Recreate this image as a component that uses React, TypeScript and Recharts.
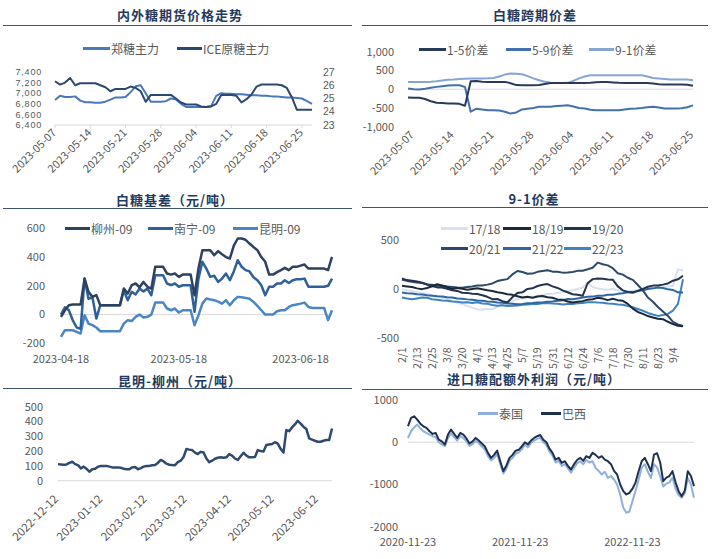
import React from "react";
import { LineChart, Line, XAxis, YAxis, ReferenceLine } from "recharts";

const FONT = "'Noto Sans CJK SC', 'Noto Sans', sans-serif";
const NUM_FONT = "'Liberation Sans', Arial, sans-serif";
const TICK = "#595959";
const RULE = "#3e5272";

// ---- 内外糖期货价格走势 (daily from 2023-05-07) ----
const p1TickDays = [0, 7, 14, 21, 28, 35, 42, 49];
const p1TickLabels = ["2023-05-07", "2023-05-14", "2023-05-21", "2023-05-28", "2023-06-04", "2023-06-11", "2023-06-18", "2023-06-25"];
const zhengMain = [
  6870, 6950, 6930, 6930, 6940, 6860, 6830, 6830, 6820, 6820,
  6840, 6880, 6920, 6920, 6930, 7020, 7130, 7150, 7000, 6840,
  6840, 6840, 6850, 6900, 6880, 6800, 6740, 6740, 6740, 6740,
  6740, 6760, 6950, 7000, 6990, 6990, 6980, 6980, 6970, 6960,
  6960, 6950, 6950, 6940, 6940, 6930, 6920, 6920, 6910, 6900,
  6850, 6800,
];
const iceRaw = [
  26.3, 26.05, 26.2, 26.55, 26.0, 26.15, 26.15, 26.15, 26.15, 26.0,
  25.85, 25.55, 25.72, 25.72, 25.72, 25.9, 25.8, 25.55, 24.75, 25.27,
  25.27, 25.27, 25.27, 25.27, 25.0, 24.7, 24.55, 24.55, 24.55, 24.4,
  24.36, 24.4, 24.6, 25.27, 25.27, 25.27, 25.2, 24.7, 24.95, 25.3,
  25.9, 26.06, 26.06, 26.06, 26.06, 26.0, 25.8, 25.1, 24.15, 24.15,
  24.15, 24.15,
];

// ---- 白糖跨期价差 (daily from 2023-05-06) ----
const p2FirstDay = -1;
const spread15 = [
  -220, -225, -230, -260, -320, -360, -370, -380, -380, -390,
  -440, 210, 220, 200, 195, 195, 195, 195, 160, 110,
  105, 105, 105, 110, 140, 165, 168, 168, 168, 168,
  168, 168, 170, 185, 195, 190, 180, 170, 168, 168,
  168, 168, 165, 150, 130, 125, 125, 125, 125, 120,
  90,
];
const spread59 = [
  20, 0, -10, 10, 40, 62, 80, 100, 107, 107,
  60, -600, -520, -540, -560, -560, -570, -600, -650, -620,
  -540, -520, -500, -470, -470, -470, -450, -440, -430, -460,
  -500, -516, -550, -560, -560, -560, -560, -560, -540, -520,
  -516, -500, -480, -470, -490, -516, -516, -516, -510, -480,
  -430,
];
const spread91 = [
  190, 195, 195, 195, 200, 210, 230, 250, 258, 270,
  280, 285, 285, 285, 290, 300, 340, 390, 418, 410,
  400, 350, 290, 240, 200, 170, 168, 168, 170, 220,
  290, 340, 370, 373, 373, 373, 373, 373, 373, 373,
  373, 370, 340, 300, 285, 270, 258, 258, 258, 258,
  240,
];

// ---- 白糖基差 (daily from 2023-04-18) ----
const p3TickDays = [0, 30, 61];
const p3TickLabels = ["2023-04-18", "2023-05-18", "2023-06-18"];
const basisLiuzhou = [
  -16, 30, 65, 70, 70, 70, 250, 158, 123, 135,
  65, 65, 65, 65, 65, 65, 181, 146, 204, 216,
  190, 227, 193, 181, 332, 332, 332, 285, 278, 285,
  262, 278, 278, 278, 134, 320, 448, 448, 448, 413,
  441, 420, 400, 390, 480, 529, 529, 520, 494, 470,
  448, 400, 367, 278, 278, 295, 309, 325, 309, 332,
  332, 340, 348, 320, 320, 320, 320, 320, 310, 401,
];
const basisNanning = [
  0, 50, 30, -40, -90, -100, 250, 110, 120, -28,
  65, 65, 65, 65, 65, 65, 169, 100, 158, 140,
  181, 160, 181, 134, 274, 274, 274, 216, 204, 216,
  193, 204, 204, 204, 19, 250, 367, 320, 262, 270,
  227, 250, 285, 239, 300, 378, 332, 309, 300, 260,
  239, 204, 134, 193, 193, 216, 216, 239, 220, 239,
  245, 245, 250, 193, 193, 193, 193, 193, 200, 250,
];
const basisKunming = [
  -156, -109, -109, -109, -120, -132, -5, -63, -74, -90,
  -116, -116, -116, -116, -116, -116, -63, -39, -45, -16,
  0, -20, -16, 0, 83, 83, 83, 42, 30, 42,
  14, 30, 30, 30, -74, -5, 76, 111, 105, 100,
  90, 76, 100, 65, 100, 123, 120, 116, 110, 88,
  60, 30, 0, 0, 0, 23, 30, 30, 53, 65,
  70, 76, 83, 53, 46, 46, 46, 46, -39, 30,
];

// ---- 9-1价差 seasonal (every 4 days from 2/1) ----
const p4Step = 4;
const p4TickDays = [0, 12, 24, 36, 48, 60, 72, 84, 96, 108, 120, 132, 144, 156, 168, 180, 192, 204, 216];
const p4TickLabels = ["2/1", "2/13", "2/25", "3/8", "3/20", "4/1", "4/13", "4/25", "5/7", "5/19", "5/31", "6/12", "6/24", "7/6", "7/18", "7/30", "8/11", "8/23", "9/4"];
const s1718 = [
  0, -12, -18, -32, -40, -48, -62, -70, -88, -100,
  -118, -140, -150, -172, -188, -206, -210, -200, -204, -178,
  -152, -134, -122, -98, -92, -84, -82, -68, -62, -50,
  -46, -38, -32, -18, -12, 2, 17, 68, 22, 8,
  0, -6, 2, -12, -14, -22, -16, -8, 0, 6,
  8, 18, 20, 28, 34, 204, 190,
];
const s1819 = [
  34, 28, 22, 8, 0, 12, 30, 51, 38, 22,
  0, 12, 4, -6, 2, 10, -2, -12, -18, -32,
  -40, -52, -58, -72, -85, -78, -88, -74, -70, -82,
  -88, -104, -108, -126, -136, -128, -122, -108, -102, -88,
  -96, -112, -98, -112, -119, -150, -198, -232, -252, -274,
  -288, -302, -306, -332, -355, -372, -378,
];
const s1920 = [
  109, 92, 86, 78, 66, 48, 32, 18, 16, 4,
  -12, -18, -36, -38, -46, -50, -62, -78, -102, -100,
  -122, -136, -82, -38, -32, 2, 8, 32, 44, 52,
  28, 12, -12, -32, -52, -58, -68, 60, 102, 108,
  106, 98, 96, 28, -12, -28, -36, -18, 2, 24,
  36, 38, 46, 58, 86, 100, 136,
];
const s2021 = [
  95, 84, 76, 68, 62, 48, 46, 34, 32, 26,
  22, 16, 14, 22, 28, 36, 38, 46, 58, 82,
  94, 102, 150, 185, 174, 156, 158, 176, 184, 192,
  178, 176, 168, 170, 174, 186, 188, 202, 218, 270,
  254, 242, 214, 162, 148, 116, 94, 42, -12, -85,
  -128, -182, -228, -272, -332, -358, -374,
];
const s2122 = [
  -34, -42, -44, -52, -54, -62, -66, -72, -74, -82,
  -84, -96, -98, -104, -108, -116, -118, -126, -128, -136,
  -138, -146, -148, -153, -150, -144, -142, -136, -136, -128,
  -126, -118, -112, -100, -102, -94, -86, -78, -76, -66,
  -66, -58, -56, -48, -42, -32, -30, -18, -12, 2,
  8, 17, 12, -2, -8, -32, -34,
];
const s2223 = [
  -85, -96, -102, -94, -86, -88, -102, -108, -116, -118,
  -126, -128, -136, -134, -142, -134, -146, -148, -162, -170,
  -164, -172, -168, -166, -158, -156, -152, -150, -144, -142,
  -146, -148, -156, -152, -152, -144, -142, -134, -132, -136,
  -138, -146, -148, -156, -158, -172, -184, -202, -220, -242,
  -258, -272, -264, -252, -218, -150, 100,
];

// ---- 昆明-柳州 (every 2 days from 2022-12-12) ----
const p5Step = 2;
const p5TickDays = [0, 31, 62, 90, 121, 151, 182];
const p5TickLabels = ["2022-12-12", "2023-01-12", "2023-02-12", "2023-03-12", "2023-04-12", "2023-05-12", "2023-06-12"];
const kunmingLiuzhou = [
  112, 110, 108, 110, 120, 128, 112, 105, 83, 95,
  80, 61, 77, 80, 95, 99, 100, 100, 95, 90,
  90, 90, 88, 80, 77, 77, 90, 92, 77, 85,
  95, 99, 100, 104, 106, 120, 140, 130, 115, 108,
  106, 105, 125, 135, 160, 214, 210, 207, 190, 180,
  195, 190, 150, 125, 135, 148, 155, 158, 155, 158,
  180, 170, 150, 140, 165, 189, 170, 158, 158, 160,
  207, 200, 198, 241, 245, 248, 260, 250, 215, 190,
  342, 335, 360, 380, 405, 385, 365, 350, 286, 278,
  270, 263, 263, 270, 275, 275, 353,
];

// ---- 进口糖配额外利润 (every 10 days from 2020-11-23) ----
const p6Step = 10;
const p6TickDays = [0, 365, 730];
const p6TickLabels = ["2020-11-23", "2021-11-23", "2022-11-23"];
const profitThai = [
  100, 260, 350, 418, 330, 260, 221, 180, 142, 120,
  0, -50, -95, 100, 210, 120, 40, 150, 100, 20,
  -90, -40, 30, -20, -100, -170, -330, -430, -370, -280,
  -520, -740, -620, -440, -370, -270, -240, -170, -60, -120,
  -20, 40, 80, 110, 0, -60, -220, -320, -480, -440,
  -560, -520, -620, -720, -600, -500, -450, -520, -420, -480,
  -450, -607, -680, -764, -700, -843, -800, -882, -1000, -1237,
  -1552, -1670, -1640, -1395, -1150, -880, -600, -520, -700, -850,
  -520, -600, -800, -1050, -980, -950, -840, -1100, -1250, -1316,
  -1200, -850, -1000, -1316,
];
const profitBrazil = [
  380, 575, 615, 536, 440, 378, 339, 260, 197, 220,
  63, 20, -55, 181, 300, 200, 100, 221, 180, 90,
  -30, 20, 102, 40, -30, -100, -252, -370, -300, -200,
  -449, -685, -550, -370, -300, -200, -180, -100, 0, -50,
  40, 102, 142, 170, 60, 0, -150, -252, -410, -370,
  -489, -450, -560, -646, -520, -420, -370, -440, -330, -370,
  -252, -300, -370, -330, -410, -450, -520, -680, -764, -1000,
  -1158, -1237, -1200, -1100, -950, -680, -450, -370, -520, -685,
  -292, -260, -480, -922, -840, -800, -685, -950, -1158, -1280,
  -1150, -685, -800, -1040,
];

const p1Data = zhengMain.map((v, i) => ({ d: i, zheng: v, ice: iceRaw[i] }));
const p2Data = spread15.map((v, i) => ({ d: i + p2FirstDay, a: v, b: spread59[i], c: spread91[i] }));
const p3Data = basisLiuzhou.map((v, i) => ({ d: i, lz: v, nn: basisNanning[i], km: basisKunming[i] }));
const p4Data = s1718.map((v, i) => ({
  d: i * p4Step, s1718: v, s1819: s1819[i], s1920: s1920[i], s2021: s2021[i], s2122: s2122[i], s2223: s2223[i],
}));
const p5Data = kunmingLiuzhou.map((v, i) => ({ d: i * p5Step, v }));
const p6Data = profitThai.map((v, i) => ({ d: i * p6Step, thai: v, brazil: profitBrazil[i] }));

const comma = (v: number) => v.toLocaleString("en-US");
const yTick = { fill: TICK, fontSize: 11, fontFamily: FONT };

function SlantTick(props: any) {
  const { x, y, payload, ticks, labels, dx, dy, size } = props;
  const label = labels[ticks.indexOf(payload.value)];
  const ax = x + dx;
  const ay = y + dy;
  return (
    <text x={ax} y={ay} transform={`rotate(-45 ${ax} ${ay})`} textAnchor="end" fontSize={size} fill={TICK} fontFamily={FONT}>
      {label}
    </text>
  );
}

function VertTick(props: any) {
  const { x, y, payload, ticks, labels } = props;
  const label = labels[ticks.indexOf(payload.value)];
  const ax = x + 4;
  const ay = y + 9;
  return (
    <text x={ax} y={ay} transform={`rotate(-90 ${ax} ${ay})`} textAnchor="end" fontSize={10.5} fill={TICK} fontFamily={FONT}>
      {label}
    </text>
  );
}

function FlatTick(props: any) {
  const { x, y, payload, ticks, labels, dy } = props;
  const label = labels[ticks.indexOf(payload.value)];
  return (
    <text x={x} y={y + dy} textAnchor="middle" fontSize={11} fill={TICK} fontFamily={FONT}>
      {label}
    </text>
  );
}

function Title({ text, cx, cy, x0, x1, lineY }: { text: string; cx: number; cy: number; x0: number; x1: number; lineY: number }) {
  return (
    <>
      <div
        style={{
          position: "absolute", left: cx - 170, width: 340, top: cy - 10, height: 20, lineHeight: "20px",
          textAlign: "center", fontFamily: FONT, fontWeight: 700, fontSize: 13, color: "#1f3a60", letterSpacing: 1,
        }}
      >
        {text}
      </div>
      <div style={{ position: "absolute", left: x0, width: x1 - x0, top: lineY, height: 1, background: RULE }} />
    </>
  );
}

function Key({ label, color, x, y, len }: { label: string; color: string; x: number; y: number; len: number }) {
  return (
    <div style={{ position: "absolute", left: x, top: y - 9, height: 18, display: "flex", alignItems: "center", whiteSpace: "nowrap" }}>
      <span style={{ display: "inline-block", width: len, height: 3, background: color }} />
      <span style={{ fontSize: 12, color: TICK, fontFamily: FONT, marginLeft: 1 }}>{label}</span>
    </div>
  );
}

const C = {
  zheng: "#4a78bd",
  ice: "#2c4770",
  s15: "#283c5a",
  s59: "#4470ae",
  s91: "#86a5d3",
  lz: "#2d4261",
  nn: "#2f6099",
  km: "#4a86c5",
  y1718: "#d8e1ee",
  y1819: "#1c293b",
  y1920: "#22344e",
  y2021: "#2e4869",
  y2122: "#2f67a4",
  y2223: "#3f83c4",
  kl: "#2e4a6e",
  thai: "#8fb0dc",
  brazil: "#1e3250",
};

const lineProps = { type: "linear" as const, dot: false, isAnimationActive: false, strokeWidth: 2, strokeLinejoin: "round" as const };

export default function App() {
  return (
    <div style={{ position: "absolute", left: 0, top: 0, width: 722, height: 559, background: "#ffffff", overflow: "hidden" }}>
      <Title text="内外糖期货价格走势" cx={180} cy={15} x0={3} x1={352} lineY={25} />
      <Title text="白糖跨期价差" cx={535} cy={15} x0={362} x1={708} lineY={25} />
      <Title text="白糖基差（元/吨）" cx={175} cy={200} x0={3} x1={352} lineY={208} />
      <Title text="9-1价差" cx={534} cy={199} x0={362} x1={708} lineY={207} />
      <Title text="昆明-柳州（元/吨）" cx={180} cy={381} x0={3} x1={352} lineY={388} />
      <Title text="进口糖配额外利润（元/吨）" cx={534} cy={379} x0={362} x1={708} lineY={389} />

      {/* panel 1 */}
      <div style={{ position: "absolute", left: 0, top: 55 }}>
        <LineChart width={361} height={140} data={p1Data} margin={{ top: 17, right: 0, bottom: 0, left: 0 }}>
          <XAxis
            dataKey="d" type="number" domain={[0, 51]} ticks={p1TickDays} interval={0} height={70}
            axisLine={{ stroke: "#d9d9d9" }} tickLine={{ stroke: "#d9d9d9" }} tickSize={3} tickMargin={0}
            tick={(p: any) => <SlantTick {...p} ticks={p1TickDays} labels={p1TickLabels} dx={2} dy={5.5} size={11} />}
          />
          <YAxis
            yAxisId="l" domain={[6400, 7400]} ticks={[6400, 6600, 6800, 7000, 7200, 7400]} width={55} interval={0}
            axisLine={false} tickLine={false} tickSize={0} tickMargin={13}
            tick={{ fill: TICK, fontSize: 9, fontFamily: NUM_FONT, letterSpacing: 0.8 }} tickFormatter={comma}
          />
          <YAxis
            yAxisId="r" orientation="right" domain={[23, 27]} ticks={[23, 24, 25, 26, 27]} width={49} interval={0}
            axisLine={false} tickLine={false} tickSize={0} tickMargin={11}
            tick={{ fill: TICK, fontSize: 10.5, fontFamily: NUM_FONT, textAnchor: "start" }}
          />
          <Line {...lineProps} yAxisId="l" dataKey="zheng" stroke={C.zheng} />
          <Line {...lineProps} yAxisId="r" dataKey="ice" stroke={C.ice} />
        </LineChart>
      </div>
      <Key label="郑糖主力" color={C.zheng} x={83} y={48} len={27} />
      <Key label="ICE原糖主力" color={C.ice} x={177} y={48} len={25} />

      {/* panel 2 */}
      <div style={{ position: "absolute", left: 361, top: 40 }}>
        <LineChart width={361} height={155} data={p2Data} margin={{ top: 11.7, right: 29, bottom: 0, left: 0 }}>
          <XAxis
            dataKey="d" type="number" domain={[-1, 49]} ticks={p1TickDays} interval={0} height={68.3}
            axisLine={false} tickLine={false} tickSize={0} tickMargin={0}
            tick={(p: any) => <SlantTick {...p} ticks={p1TickDays} labels={p1TickLabels} dx={1} dy={9} size={11} />}
          />
          <YAxis
            domain={[-1000, 1000]} ticks={[-1000, -500, 0, 500, 1000]} width={47} interval={0}
            axisLine={false} tickLine={false} tickSize={0} tickMargin={14} tick={yTick} tickFormatter={comma}
          />
          <ReferenceLine y={0} stroke="#d9d9d9" />
          <Line {...lineProps} dataKey="c" stroke={C.s91} />
          <Line {...lineProps} dataKey="b" stroke={C.s59} />
          <Line {...lineProps} dataKey="a" stroke={C.s15} />
        </LineChart>
      </div>
      <Key label="1-5价差" color={C.s15} x={419} y={49} len={27} />
      <Key label="5-9价差" color={C.s59} x={506} y={49} len={25} />
      <Key label="9-1价差" color={C.s91} x={589} y={49} len={25} />

      {/* panel 3 */}
      <div style={{ position: "absolute", left: 0, top: 215 }}>
        <LineChart width={361} height={155} data={p3Data} margin={{ top: 13.3, right: 29, bottom: 0, left: 0 }}>
          <XAxis
            dataKey="d" type="number" domain={[0, 69]} ticks={p3TickDays} interval={0} height={26.7}
            axisLine={false} tickLine={false} tickSize={0} tickMargin={0}
            tick={(p: any) => <FlatTick {...p} ticks={p3TickDays} labels={p3TickLabels} dy={19.5} />}
          />
          <YAxis
            domain={[-200, 600]} ticks={[-200, 0, 200, 400, 600]} width={61} interval={0}
            axisLine={false} tickLine={false} tickSize={0} tickMargin={16} tick={yTick}
          />
          <ReferenceLine y={0} stroke="#d9d9d9" />
          <Line {...lineProps} dataKey="km" stroke={C.km} strokeWidth={2.5} />
          <Line {...lineProps} dataKey="nn" stroke={C.nn} strokeWidth={2.5} />
          <Line {...lineProps} dataKey="lz" stroke={C.lz} strokeWidth={2.5} />
        </LineChart>
      </div>
      <Key label="柳州-09" color={C.lz} x={65} y={228} len={25} />
      <Key label="南宁-09" color={C.nn} x={148} y={228} len={25} />
      <Key label="昆明-09" color={C.km} x={233} y={228} len={25} />

      {/* panel 4 */}
      <div style={{ position: "absolute", left: 361, top: 215 }}>
        <LineChart width={361} height={160} data={p4Data} margin={{ top: 25, right: 39, bottom: 0, left: 0 }}>
          <XAxis
            dataKey="d" type="number" domain={[0, 224]} ticks={p4TickDays} interval={0} height={36.7}
            axisLine={false} tickLine={false} tickSize={0} tickMargin={0}
            tick={(p: any) => <VertTick {...p} ticks={p4TickDays} labels={p4TickLabels} />}
          />
          <YAxis
            domain={[-500, 500]} ticks={[-500, 0, 500]} width={41} interval={0}
            axisLine={false} tickLine={false} tickSize={0} tickMargin={3} tick={yTick}
          />
          <Line {...lineProps} dataKey="s1718" stroke={C.y1718} />
          <Line {...lineProps} dataKey="s2223" stroke={C.y2223} />
          <Line {...lineProps} dataKey="s2122" stroke={C.y2122} />
          <Line {...lineProps} dataKey="s2021" stroke={C.y2021} />
          <Line {...lineProps} dataKey="s1920" stroke={C.y1920} />
          <Line {...lineProps} dataKey="s1819" stroke={C.y1819} />
        </LineChart>
      </div>
      <Key label="17/18" color={C.y1718} x={441} y={228} len={27} />
      <Key label="18/19" color={C.y1819} x={503} y={228} len={28} />
      <Key label="19/20" color={C.y1920} x={564} y={228} len={27} />
      <Key label="20/21" color={C.y2021} x={441} y={248} len={27} />
      <Key label="21/22" color={C.y2122} x={503} y={248} len={28} />
      <Key label="22/23" color={C.y2223} x={564} y={248} len={27} />

      {/* panel 5 */}
      <div style={{ position: "absolute", left: 0, top: 395 }}>
        <LineChart width={361} height={150} data={p5Data} margin={{ top: 11.7, right: 29, bottom: 0, left: 0 }}>
          <XAxis
            dataKey="d" type="number" domain={[0, 192]} ticks={p5TickDays} interval={0} height={64.3}
            axisLine={{ stroke: "#d9d9d9" }} tickLine={false} tickSize={0} tickMargin={0}
            tick={(p: any) => <SlantTick {...p} ticks={p5TickDays} labels={p5TickLabels} dx={1} dy={19} size={11.5} />}
          />
          <YAxis
            domain={[0, 500]} ticks={[0, 100, 200, 300, 400, 500]} width={58} interval={0}
            axisLine={false} tickLine={false} tickSize={0} tickMargin={15} tick={yTick}
          />
          <Line {...lineProps} dataKey="v" stroke={C.kl} strokeWidth={2.5} />
        </LineChart>
      </div>

      {/* panel 6 */}
      <div style={{ position: "absolute", left: 361, top: 390 }}>
        <LineChart width={361} height={165} data={p6Data} margin={{ top: 10, right: 28, bottom: 0, left: 0 }}>
          <XAxis
            dataKey="d" type="number" domain={[0, 930]} ticks={p6TickDays} interval={0} height={28.3}
            axisLine={false} tickLine={false} tickSize={0} tickMargin={0}
            tick={(p: any) => <FlatTick {...p} ticks={p6TickDays} labels={p6TickLabels} dy={19} />}
          />
          <YAxis
            domain={[-2000, 1000]} ticks={[-2000, -1000, 0, 1000]} width={47} interval={0}
            axisLine={false} tickLine={false} tickSize={0} tickMargin={10} tick={yTick}
          />
          <ReferenceLine y={0} stroke="#d9d9d9" />
          <Line {...lineProps} dataKey="thai" stroke={C.thai} />
          <Line {...lineProps} dataKey="brazil" stroke={C.brazil} />
        </LineChart>
      </div>
      <Key label="泰国" color={C.thai} x={478} y={413} len={20} />
      <Key label="巴西" color={C.brazil} x={541} y={413} len={20} />
    </div>
  );
}
